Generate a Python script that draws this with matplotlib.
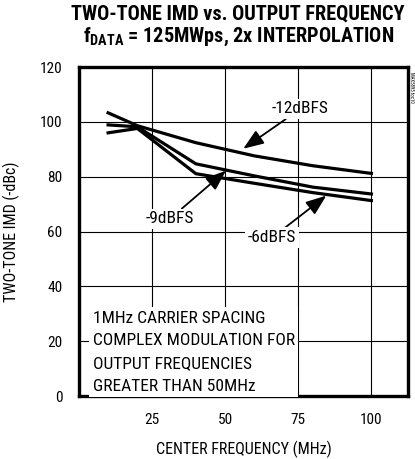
import numpy as np
import matplotlib
matplotlib.use("Agg")
import matplotlib.pyplot as plt

# values
freq_mhz = [10, 20, 40, 60, 80, 100]
imd_12dbfs = [103.3, 98.6, 92.4, 87.6, 84.0, 81.2]
imd_9dbfs = [98.9, 98.2, 84.7, 80.3, 76.2, 73.7]
imd_6dbfs = [96.0, 97.6, 81.1, 77.6, 74.2, 71.3]

x_ticks = [25, 50, 75, 100]
y_ticks = [0, 20, 40, 60, 80, 100, 120]

FONT = ["Roboto Condensed", "DejaVu Sans"]
plt.rcParams["font.family"] = FONT

fig = plt.figure(figsize=(4.15, 4.59), dpi=100)
ax = fig.add_axes([0.190, 0.137, 0.793, 0.717])

for s in (imd_12dbfs, imd_9dbfs, imd_6dbfs):
    ax.plot(freq_mhz, s, color="black", lw=2.3, solid_joinstyle="miter", zorder=3)

ax.set_xlim(0, 112.5)
ax.set_ylim(0, 120)
ax.set_xticks(x_ticks)
ax.set_yticks(y_ticks)
ax.set_xticklabels([str(v) for v in x_ticks], fontsize=11)
ax.set_yticklabels([str(v) for v in y_ticks], fontsize=11)
ax.tick_params(axis="x", length=0, pad=12)
ax.tick_params(axis="y", length=0, pad=12)
ax.grid(True, color="black", lw=0.8)
for sp in ax.spines.values():
    sp.set_linewidth(2.4)

ax.set_xlabel("CENTER FREQUENCY (MHz)", fontsize=11.5, labelpad=10)
ax.set_ylabel("TWO-TONE IMD (-dBc)", fontsize=11.5, labelpad=14)

fig.text(0.574, 0.9695, "TWO-TONE IMD vs. OUTPUT FREQUENCY", ha="center", va="center",
         fontsize=14.6, fontweight="bold")
fig.text(0.574, 0.919, r"f$_\mathregular{DATA}$ = 125MWps, 2x INTERPOLATION", ha="center",
         va="center", fontsize=14.6, fontweight="bold")
fig.text(0.992, 0.81, "MAX5895 toc10", rotation=270, fontsize=3.5, ha="center", va="center")

box = dict(boxstyle="square,pad=0.15", fc="white", ec="none")
arrow = dict(arrowstyle="-|>,head_length=1.0,head_width=0.38", color="black", lw=1.3,
             shrinkA=0, shrinkB=0)

ax.annotate("-12dBFS", xy=(56.2, 90.2), xytext=(75.7, 104.7), ha="center", va="center",
            fontsize=12.5, bbox=box, arrowprops=arrow, zorder=4)
ax.annotate("-9dBFS", xy=(50.3, 82.2), xytext=(31.2, 64.7), ha="center", va="center",
            fontsize=12.5, bbox=box, arrowprops=arrow, zorder=4)
ax.annotate("-6dBFS", xy=(84.6, 73.1), xytext=(66.1, 57.8), ha="center", va="center",
            fontsize=12.5, bbox=box, arrowprops=arrow, zorder=4)

ax.text(4.8, 16, "1MHz CARRIER SPACING\nCOMPLEX MODULATION FOR\nOUTPUT FREQUENCIES\nGREATER THAN 50MHz",
        ha="left", va="center", fontsize=12.5, linespacing=1.65, zorder=4,
        bbox=dict(boxstyle="square,pad=0.2", fc="white", ec="none"))

fig.savefig("out.png", dpi=100)
